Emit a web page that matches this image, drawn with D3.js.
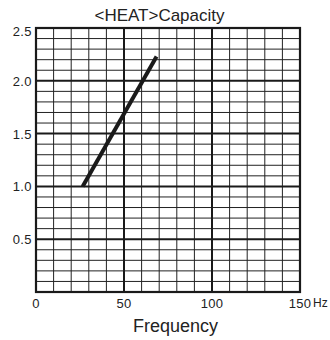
<!DOCTYPE html>
<html><head><meta charset="utf-8">
<script src="https://cdn.jsdelivr.net/npm/d3@7"></script>
<style>body{margin:0;background:#fff}svg{display:block}text{font-family:"Liberation Sans",Arial,sans-serif;fill:#222}</style>
</head><body>
<script>
const title = "<HEAT>Capacity";
const xLabel = "Frequency";
const xUnit = "Hz";
const xTicks = [0, 50, 100, 150];
const yTicks = [0.5, 1.0, 1.5, 2.0, 2.5];
const freq = [26.5, 68.5];
const capacity = [1.0, 2.23];

const W = 330, H = 340;
const m = {l: 36, r: 30, t: 28, b: 48};
const svg = d3.select("body").append("svg").attr("width", W).attr("height", H);
const x = d3.scaleLinear().domain([0, 150]).range([m.l, W - m.r]);
const y = d3.scaleLinear().domain([0, 2.5]).range([H - m.b, m.t]);

const g = svg.append("g");
// minor grid
g.selectAll(".vx").data(d3.range(10, 150, 10).filter(v => v % 50 !== 0)).join("line")
  .attr("x1", d => x(d)).attr("x2", d => x(d)).attr("y1", y(0)).attr("y2", y(2.5))
  .attr("stroke", "#222").attr("stroke-width", 1);
g.selectAll(".hy").data(d3.range(1, 25).map(v => v / 10).filter((v, i) => (i + 1) % 5 !== 0)).join("line")
  .attr("y1", d => y(d)).attr("y2", d => y(d)).attr("x1", x(0)).attr("x2", x(150))
  .attr("stroke", "#222").attr("stroke-width", 1);
// major grid
g.selectAll(".mx").data([50, 100]).join("line")
  .attr("x1", d => x(d)).attr("x2", d => x(d)).attr("y1", y(0)).attr("y2", y(2.5))
  .attr("stroke", "#1a1a1a").attr("stroke-width", 2);
g.selectAll(".my").data([0.5, 1.0, 1.5, 2.0]).join("line")
  .attr("y1", d => y(d)).attr("y2", d => y(d)).attr("x1", x(0)).attr("x2", x(150))
  .attr("stroke", "#1a1a1a").attr("stroke-width", 2);
// frame
g.append("rect").attr("x", x(0)).attr("y", y(2.5)).attr("width", x(150) - x(0)).attr("height", y(0) - y(2.5))
  .attr("fill", "none").attr("stroke", "#1a1a1a").attr("stroke-width", 2.2);

// data line
const pts = freq.map((f, i) => [f, capacity[i]]);
svg.append("path").datum(pts)
  .attr("d", d3.line().x(d => x(d[0])).y(d => y(d[1])))
  .attr("fill", "none").attr("stroke", "#1a1a1a").attr("stroke-width", 4);

// axes labels
svg.selectAll(".yt").data(yTicks).join("text")
  .attr("x", x(0) - 4).attr("y", d => y(d) + (d === 2.5 ? 8 : 5)).attr("text-anchor", "end")
  .attr("font-size", 13).attr("letter-spacing", 0.4).text(d => d.toFixed(1));
svg.selectAll(".xt").data(xTicks).join("text")
  .attr("x", d => x(d)).attr("y", y(0) + 16).attr("text-anchor", "middle")
  .attr("font-size", 13).attr("letter-spacing", 0.3).text(d => d);
svg.append("text").attr("x", x(150) + 13).attr("y", y(0) + 15)
  .attr("font-size", 12).text(xUnit);
svg.append("text").attr("x", 175.5).attr("y", y(0) + 40).attr("text-anchor", "middle")
  .attr("font-size", 18).text(xLabel);
svg.append("text").attr("x", 159.5).attr("y", 21).attr("text-anchor", "middle")
  .attr("font-size", 17).text(title);
</script>
</body></html>
